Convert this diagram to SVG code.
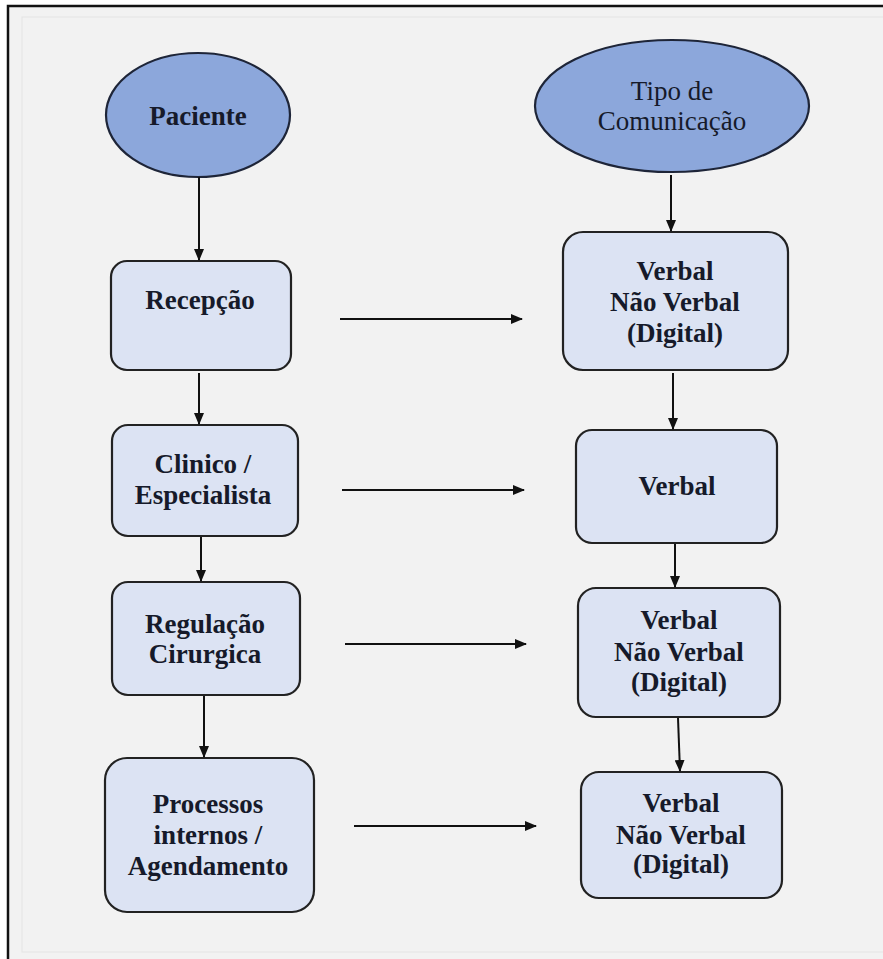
<svg xmlns="http://www.w3.org/2000/svg" width="883" height="959" viewBox="0 0 883 959">
<defs>
<style>
.bg{fill:#f2f2f2}
.ell{fill:#8ca7db;stroke:#1e2538;stroke-width:2.2}
.box{fill:#dce3f3;stroke:#222;stroke-width:2.2}
.t{font-family:"Liberation Serif","Times New Roman",serif;font-size:27px;fill:#161a2a;text-anchor:middle}
.b{font-weight:bold}
.c{stroke:#111;stroke-width:2;fill:none;marker-end:url(#ah)}
</style>
<marker id="ah" viewBox="0 0 12 10" refX="11" refY="5" markerWidth="12" markerHeight="10" markerUnits="userSpaceOnUse" orient="auto">
<path d="M0,0 L12,5 L0,10 z" fill="#111"/>
</marker>
</defs>
<rect x="0" y="0" width="883" height="959" fill="#ffffff"/>
<rect class="bg" x="8" y="6" width="875" height="953"/>
<rect x="22" y="17" width="880" height="935" fill="none" stroke="#e4e4e4" stroke-width="1"/>
<path d="M8,959 L8,6 L883,6" fill="none" stroke="#111" stroke-width="2.5"/>

<g id="paciente">
<ellipse class="ell" cx="198" cy="115" rx="92" ry="62"/>
<text class="t b" x="198" y="125">Paciente</text>
</g>
<g id="tipo">
<ellipse class="ell" cx="672" cy="106" rx="137" ry="66"/>
<text class="t" x="672" y="100">Tipo de</text>
<text class="t" x="672" y="130">Comunicação</text>
</g>
<g id="recepcao">
<rect class="box" x="111" y="261" width="180" height="109" rx="16"/>
<text class="t b" x="200" y="309">Recepção</text>
</g>
<g id="clinico">
<rect class="box" x="112" y="425" width="186" height="111" rx="16"/>
<text class="t b" x="203" y="473">Clinico /</text>
<text class="t b" x="203" y="504">Especialista</text>
</g>
<g id="regulacao">
<rect class="box" x="112" y="582" width="188" height="113" rx="16"/>
<text class="t b" x="205" y="633">Regulação</text>
<text class="t b" x="205" y="663">Cirurgica</text>
</g>
<g id="processos">
<rect class="box" x="105" y="758" width="209" height="154" rx="22"/>
<text class="t b" x="208" y="813">Processos</text>
<text class="t b" x="208" y="844">internos /</text>
<text class="t b" x="208" y="875">Agendamento</text>
</g>
<g id="r1">
<rect class="box" x="563" y="232" width="225" height="138" rx="20"/>
<text class="t b" x="675" y="280">Verbal</text>
<text class="t b" x="675" y="311">Não Verbal</text>
<text class="t b" x="675" y="342">(Digital)</text>
</g>
<g id="r2">
<rect class="box" x="576" y="430" width="201" height="113" rx="16"/>
<text class="t b" x="677" y="495">Verbal</text>
</g>
<g id="r3">
<rect class="box" x="578" y="588" width="202" height="129" rx="18"/>
<text class="t b" x="679" y="629">Verbal</text>
<text class="t b" x="679" y="661">Não Verbal</text>
<text class="t b" x="679" y="691">(Digital)</text>
</g>
<g id="r4">
<rect class="box" x="581" y="772" width="201" height="126" rx="18"/>
<text class="t b" x="681" y="812">Verbal</text>
<text class="t b" x="681" y="844">Não Verbal</text>
<text class="t b" x="681" y="873">(Digital)</text>
</g>

<g id="connectors">
<line class="c" x1="199" y1="177" x2="199" y2="260"/>
<line class="c" x1="199" y1="373" x2="199" y2="424"/>
<line class="c" x1="201" y1="537" x2="201" y2="581"/>
<line class="c" x1="204" y1="696" x2="204" y2="757"/>
<line class="c" x1="671" y1="175" x2="671" y2="231"/>
<line class="c" x1="673" y1="373" x2="673" y2="429"/>
<line class="c" x1="675" y1="544" x2="675" y2="587"/>
<line class="c" x1="678" y1="718" x2="680" y2="771"/>
<line class="c" x1="340" y1="319" x2="522" y2="319"/>
<line class="c" x1="342" y1="490" x2="524" y2="490"/>
<line class="c" x1="345" y1="644" x2="526" y2="644"/>
<line class="c" x1="354" y1="826" x2="536" y2="826"/>
</g>
</svg>
